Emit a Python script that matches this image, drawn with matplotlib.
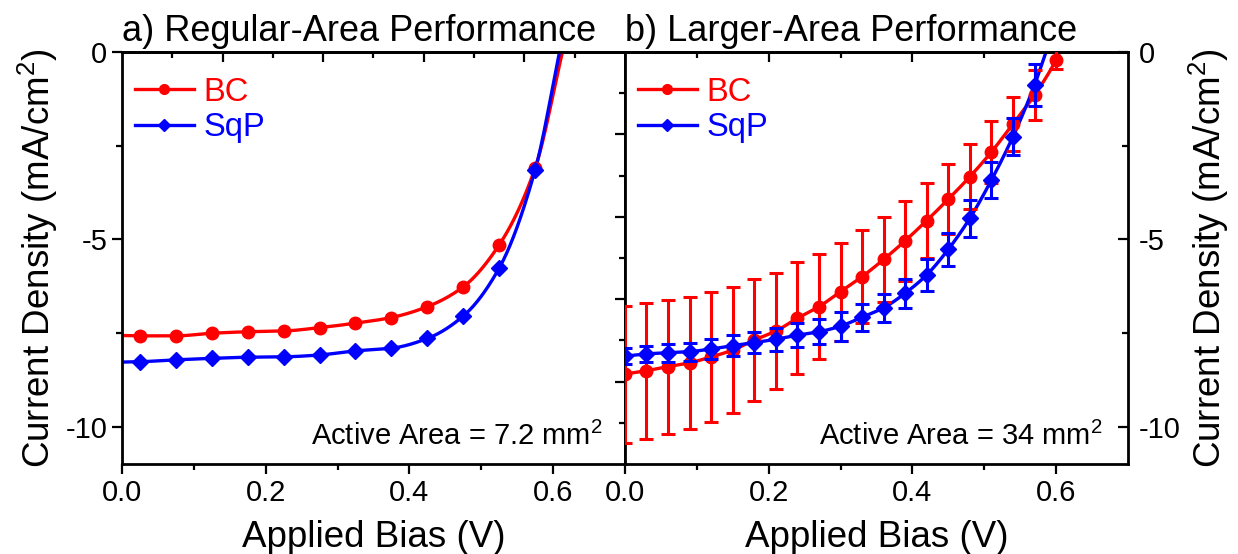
import matplotlib
matplotlib.use("Agg")
import matplotlib.pyplot as plt
import numpy as np

plt.rcParams['font.family'] = ['Liberation Sans', 'DejaVu Sans']
plt.rcParams['mathtext.fontset'] = 'custom'
plt.rcParams['mathtext.rm'] = 'Liberation Sans'
plt.rcParams['mathtext.it'] = 'Liberation Sans'
plt.rcParams['axes.unicode_minus'] = False

# a) regular area: J-V points
bias_a = [0.025, 0.075, 0.125, 0.175, 0.225, 0.275, 0.325, 0.375, 0.425, 0.475, 0.525, 0.575]
bc_a = [-7.58, -7.58, -7.51, -7.47, -7.45, -7.36, -7.24, -7.09, -6.80, -6.27, -5.15, -3.10]
sqp_a = [-8.27, -8.22, -8.18, -8.15, -8.14, -8.09, -7.98, -7.91, -7.65, -7.05, -5.77, -3.15]
# curve ends (short circuit and open circuit)
bc_a_ends = [(0.0, -7.57), (0.613, 0.0)]
sqp_a_ends = [(0.0, -8.28), (0.609, 0.0)]

# b) larger area: mean J-V with standard deviation
bias_b = [0.00, 0.03, 0.06, 0.09, 0.12, 0.15, 0.18, 0.21, 0.24, 0.27, 0.30,
          0.33, 0.36, 0.39, 0.42, 0.45, 0.48, 0.51, 0.54, 0.57, 0.60]
bc_b = [-8.60, -8.51, -8.40, -8.30, -8.14, -7.96, -7.69, -7.45, -7.11, -6.80, -6.40,
        -6.00, -5.54, -5.04, -4.50, -3.93, -3.33, -2.67, -1.92, -1.15, -0.21]
bc_b_err = [1.83, 1.82, 1.79, 1.77, 1.73, 1.68, 1.62, 1.56, 1.49, 1.41, 1.31,
            1.24, 1.14, 1.07, 1.00, 0.93, 0.87, 0.83, 0.73, 0.67, 0.25]
bias_b_sqp = bias_b[:-1]
sqp_b = [-8.12, -8.06, -8.03, -8.00, -7.93, -7.84, -7.76, -7.67, -7.56, -7.47, -7.32,
         -7.08, -6.83, -6.44, -5.95, -5.27, -4.44, -3.42, -2.26, -0.88]
sqp_b_err = [0.21, 0.22, 0.24, 0.24, 0.27, 0.28, 0.29, 0.31, 0.32, 0.34, 0.39,
             0.36, 0.38, 0.39, 0.42, 0.44, 0.49, 0.49, 0.49, 0.57]
bc_b_end = (0.605, 0.0)
sqp_b_end = (0.586, 0.0)

RED = '#ff0000'
BLUE = '#0000ff'


def pchip(x, y, xs):
    """monotone cubic curve through the points, for the connecting line"""
    x = np.asarray(x, float)
    y = np.asarray(y, float)
    h = np.diff(x)
    d = np.diff(y) / h
    m = np.zeros_like(y)
    m[0], m[-1] = d[0], d[-1]
    for k in range(1, len(x) - 1):
        if d[k - 1] * d[k] > 0:
            w1 = 2 * h[k] + h[k - 1]
            w2 = h[k] + 2 * h[k - 1]
            m[k] = (w1 + w2) / (w1 / d[k - 1] + w2 / d[k])
    idx = np.clip(np.searchsorted(x, xs) - 1, 0, len(x) - 2)
    t = (xs - x[idx]) / h[idx]
    h00 = 2 * t**3 - 3 * t**2 + 1
    h10 = t**3 - 2 * t**2 + t
    h01 = -2 * t**3 + 3 * t**2
    h11 = t**3 - t**2
    return h00 * y[idx] + h10 * h[idx] * m[idx] + h01 * y[idx + 1] + h11 * h[idx] * m[idx + 1]


def smooth_line(ax, vx, jy, color, start=None, end=None):
    xs = list(vx)
    ys = list(jy)
    if start is not None:
        xs = [start[0]] + xs
        ys = [start[1]] + ys
    if end is not None:
        xs = xs + [end[0]]
        ys = ys + [end[1]]
    xx = np.linspace(xs[0], xs[-1], 400)
    ax.plot(xx, pchip(xs, ys, xx), color=color, lw=2.4, zorder=2)


def style_axes(ax):
    for sp in ax.spines.values():
        sp.set_linewidth(2.0)
    ax.set_xlim(0, 0.7)
    ax.set_ylim(-11, 0)
    ax.set_xticks([0.0, 0.2, 0.4, 0.6])
    ax.set_xticks([0.1, 0.3, 0.5], minor=True)
    ax.set_xticklabels(['0.0', '0.2', '0.4', '0.6'])
    ax.set_yticks([0, -5, -10])
    ax.set_yticks([-2.5, -7.5], minor=True)
    ax.set_yticklabels(['0', '-5', '-10'])
    ax.tick_params(which='major', length=7, width=1.6, labelsize=21)
    ax.tick_params(which='minor', length=4, width=1.6)
    ax.tick_params(axis='x', which='both', direction='out', top=False)
    ax.set_xlabel('Applied Bias (V)', fontsize=26.5, labelpad=10)


fig = plt.figure(figsize=(12.38, 5.54), dpi=100)
ax1 = fig.add_axes([0.0985, 0.1625, 0.4063, 0.7437])
ax2 = fig.add_axes([0.5048, 0.1625, 0.4063, 0.7437])

# ---- panel a
style_axes(ax1)
ax1.tick_params(axis='y', which='both', direction='out', left=True, right=False)
smooth_line(ax1, bias_a, bc_a, RED, *bc_a_ends)
smooth_line(ax1, bias_a, sqp_a, BLUE, *sqp_a_ends)
ax1.plot(bias_a, bc_a, 'o', color=RED, ms=9, zorder=3)
ax1.plot(bias_a, sqp_a, 'D', color=BLUE, ms=8, zorder=3)
ax1.set_ylabel('Current Density (mA/cm$^2$)', fontsize=26.5, labelpad=4)
ax1.set_title('a) Regular-Area Performance', loc='left', fontsize=26, pad=8)
ax1.text(0.955, 0.066, 'Active Area = 7.2 mm$^2$', transform=ax1.transAxes,
         ha='right', va='center', fontsize=21)

# mirror ticks of panel a (ten divisions)
top_a = ax1.secondary_xaxis('top')
top_a.set_xticks([0.14, 0.28, 0.42, 0.56])
top_a.set_xticks([0.07, 0.21, 0.35, 0.49, 0.63], minor=True)
top_a.tick_params(which='both', direction='in', labeltop=False, width=1.6)
top_a.tick_params(which='major', length=7)
top_a.tick_params(which='minor', length=4)
right_a = ax1.secondary_yaxis('right')
right_a.set_yticks([-2.2, -4.4, -6.6, -8.8])
right_a.set_yticks([-1.1, -3.3, -5.5, -7.7, -9.9], minor=True)
right_a.tick_params(which='both', direction='in', labelright=False, width=1.6)
right_a.tick_params(which='major', length=7)
right_a.tick_params(which='minor', length=4)
for sa in (top_a, right_a):
    for sp in sa.spines.values():
        sp.set_linewidth(2.0)

# ---- panel b
style_axes(ax2)
ax2.yaxis.tick_right()
ax2.yaxis.set_label_position('right')
ax2.tick_params(axis='y', which='both', direction='in', left=False, right=True, pad=8)
smooth_line(ax2, bias_b, bc_b, RED, end=bc_b_end)
smooth_line(ax2, bias_b_sqp, sqp_b, BLUE, end=sqp_b_end)
ax2.errorbar(bias_b, bc_b, yerr=bc_b_err, fmt='o', color=RED, ms=9, elinewidth=2.2,
             capsize=5, capthick=2.2, zorder=3)
ax2.errorbar(bias_b_sqp, sqp_b, yerr=sqp_b_err, fmt='D', color=BLUE, ms=8, elinewidth=2.2,
             capsize=5, capthick=2.2, zorder=4)
ax2.set_ylabel('Current Density (mA/cm$^2$)', fontsize=26.5, labelpad=4, rotation=90)
ax2.set_title('b) Larger-Area Performance', loc='left', fontsize=26, pad=8)
ax2.text(0.95, 0.066, 'Active Area = 34 mm$^2$', transform=ax2.transAxes,
         ha='right', va='center', fontsize=21)
top_b = ax2.secondary_xaxis('top')
top_b.set_xticks([0.2, 0.4, 0.6])
top_b.set_xticks([0.1, 0.3, 0.5], minor=True)
top_b.tick_params(which='both', direction='in', labeltop=False, width=1.6)
top_b.tick_params(which='major', length=7)
top_b.tick_params(which='minor', length=4)
for sp in top_b.spines.values():
    sp.set_linewidth(2.0)

# legends
for ax in (ax1, ax2):
    h_bc, = ax.plot([], [], '-o', color=RED, lw=2.4, ms=7)
    h_sq, = ax.plot([], [], '-D', color=BLUE, lw=2.4, ms=6.5)
    ax.legend([h_bc, h_sq], ['BC', 'SqP'], loc='upper left', bbox_to_anchor=(0.0, 0.972),
              frameon=False, fontsize=23.5, handlelength=1.8, handletextpad=0.3,
              labelspacing=0.15, borderaxespad=0.0, labelcolor='linecolor')

fig.savefig('out.png', dpi=100)
